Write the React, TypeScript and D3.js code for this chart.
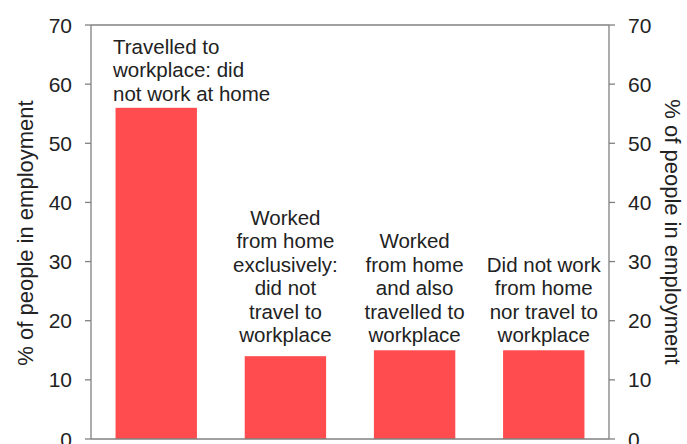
import React from "react";
import * as d3 from "d3";

const categories = ["travelled", "wfhOnly", "hybrid", "neither"];
const values = [56, 14, 15, 15];
const labelLines = [
  ["Travelled to", "workplace: did", "not work at home"],
  ["Worked", "from home", "exclusively:", "did not", "travel to", "workplace"],
  ["Worked", "from home", "and also", "travelled to", "workplace"],
  ["Did not work", "from home", "nor travel to", "workplace"],
];
const yTicks = [0, 10, 20, 30, 40, 50, 60, 70];
const axisTitle = "% of people in employment";

const W = 687;
const H = 444;
const left = 91;
const right = 609;
const top = 25;
const bottom = 439;
const font = "'Liberation Sans', Arial, sans-serif";
const textColor = "#222";
const axisColor = "#808080";
const barColor = "#ff4c4e";

export default function App() {
  const x = d3.scaleBand<string>().domain(categories).range([left, right]).paddingInner(0.37).paddingOuter(0.19);
  const y = d3.scaleLinear().domain([0, 70]).range([bottom, top]);
  const lh = 23.4;
  return (
    <svg width={W} height={H} style={{ position: "absolute", left: 0, top: 0 }} fontFamily={font}>
      <rect width={W} height={H} fill="#fff" />
      {categories.map((c, i) => (
        <rect key={c} x={x(c)} y={y(values[i])} width={x.bandwidth()} height={y(0) - y(values[i])} fill={barColor} />
      ))}
      <line x1={left} x2={right} y1={top} y2={top} stroke={axisColor} strokeWidth={1.3} />
      <line x1={left} x2={right} y1={bottom} y2={bottom} stroke={axisColor} strokeWidth={1.3} />
      <line x1={left} x2={left} y1={top} y2={bottom} stroke={axisColor} strokeWidth={1.3} />
      <line x1={right} x2={right} y1={top} y2={bottom} stroke={axisColor} strokeWidth={1.3} />
      {yTicks.map((t) => (
        <g key={t}>
          <line x1={left - 6} x2={left} y1={y(t)} y2={y(t)} stroke={axisColor} strokeWidth={1.3} />
          <line x1={right} x2={right + 6} y1={y(t)} y2={y(t)} stroke={axisColor} strokeWidth={1.3} />
          <text x={72} y={y(t)} dy="0.36em" textAnchor="end" fontSize={21} fill={textColor}>{t}</text>
          <text x={628} y={y(t)} dy="0.36em" textAnchor="start" fontSize={21} fill={textColor}>{t}</text>
        </g>
      ))}
      <text transform={`translate(25,233) rotate(-90)`} textAnchor="middle" dy="0.36em" fontSize={22} fill={textColor}>{axisTitle}</text>
      <text transform={`translate(673,232) rotate(90)`} textAnchor="middle" dy="0.36em" fontSize={22} fill={textColor}>{axisTitle}</text>
      <text fontSize={20.5} fill={textColor}>
        {labelLines[0].map((l, j) => (
          <tspan key={j} x={113} y={54 + j * lh}>{l}</tspan>
        ))}
      </text>
      {categories.slice(1).map((c, k) => {
        const lines = labelLines[k + 1];
        const cx = (x(c) as number) + x.bandwidth() / 2;
        const baseLast = 342;
        return (
          <text key={c} fontSize={20.5} fill={textColor} textAnchor="middle">
            {lines.map((l, j) => (
              <tspan key={j} x={cx} y={baseLast - (lines.length - 1 - j) * lh}>{l}</tspan>
            ))}
          </text>
        );
      })}
    </svg>
  );
}
